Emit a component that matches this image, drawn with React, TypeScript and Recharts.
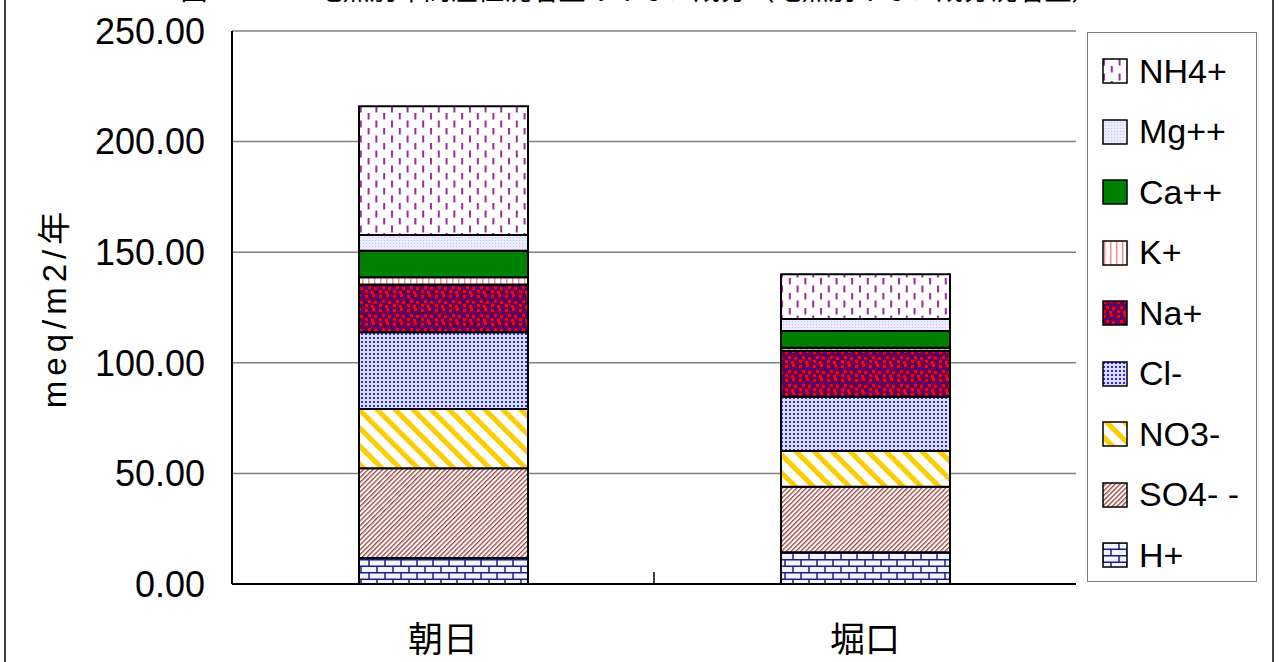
import { BarChart, Bar, XAxis, YAxis, CartesianGrid, ReferenceLine } from 'recharts';

const CATEGORIES = ['朝日', '堀口'];

// meq/m2/年, bottom of the stack first
const H_PLUS = [11.7, 14.3];
const SO4 = [40.6, 29.7];
const NO3 = [26.8, 16.1];
const CL = [34.7, 24.6];
const NA = [21.6, 20.8];
const K = [3.3, 1.3];
const CA = [12.0, 7.6];
const MG = [7.1, 5.4];
const NH4 = [58.2, 20.2];

const Y_TICKS = [0, 50, 100, 150, 200, 250];

const SERIES = [
  { key: 'H+', values: H_PLUS, fill: 'url(#pH)' },
  { key: 'SO4- -', values: SO4, fill: 'url(#pSO4)' },
  { key: 'NO3-', values: NO3, fill: 'url(#pNO3)' },
  { key: 'Cl-', values: CL, fill: 'url(#pCl)' },
  { key: 'Na+', values: NA, fill: 'url(#pNa)' },
  { key: 'K+', values: K, fill: 'url(#pK)' },
  { key: 'Ca++', values: CA, fill: '#008000' },
  { key: 'Mg++', values: MG, fill: 'url(#pMg)' },
  { key: 'NH4+', values: NH4, fill: 'url(#pNH4)' },
];

const data = CATEGORIES.map((name, i) => {
  const row: Record<string, string | number> = { name };
  SERIES.forEach((s) => {
    row[s.key] = s.values[i];
  });
  return row;
});

const FONT = '"Liberation Sans", Arial, "Noto Sans CJK JP", sans-serif';
const CJK = '"Noto Sans CJK JP", "Liberation Sans", sans-serif';

function Patterns() {
  return (
    <defs>
      <pattern id="pH" patternUnits="userSpaceOnUse" width={16} height={13}>
        <rect width={16} height={13} fill="#f4f4ff" />
        <path d="M0,0.75H16M0,7.25H16M1,0V6.5M9,6.5V13" stroke="#1c1c8a" strokeWidth={1.5} />
      </pattern>
      <pattern id="pSO4" patternUnits="userSpaceOnUse" width={3.4} height={3.4} patternTransform="rotate(45)">
        <rect width={3.4} height={3.4} fill="#ffffff" />
        <rect width={1.3} height={3.4} fill="#a0403c" />
      </pattern>
      <pattern id="pNO3" patternUnits="userSpaceOnUse" width={12.7} height={12.7} patternTransform="rotate(-45)">
        <rect width={12.7} height={12.7} fill="#ffffff" />
        <rect width={5} height={12.7} fill="#ffcc00" />
      </pattern>
      <pattern id="pCl" patternUnits="userSpaceOnUse" width={4} height={4}>
        <rect width={4} height={4} fill="#dcdcff" />
        <rect x={1} y={1} width={2} height={2} fill="#2a2aff" />
      </pattern>
      <pattern id="pNa" patternUnits="userSpaceOnUse" width={14} height={14}>
        <rect width={14} height={14} fill="#5e0060" />
        <rect x={1} y={1} width={3} height={3} fill="#ff0000" />
        <rect x={8} y={0} width={3} height={3} fill="#ff0000" />
        <rect x={4} y={6} width={3} height={3} fill="#ff0000" />
        <rect x={10} y={7} width={3} height={3} fill="#ff0000" />
        <rect x={1} y={10} width={3} height={3} fill="#ff0000" />
        <rect x={7} y={11} width={3} height={3} fill="#ff0000" />
      </pattern>
      <pattern id="pK" patternUnits="userSpaceOnUse" width={6} height={6}>
        <rect width={6} height={6} fill="#ffffff" />
        <rect x={2} width={1.5} height={6} fill="#ff8c8c" />
      </pattern>
      <pattern id="pMg" patternUnits="userSpaceOnUse" width={3} height={3}>
        <rect width={3} height={3} fill="#ececff" />
        <rect width={1} height={1} fill="#c4c4f4" />
      </pattern>
      <pattern id="pNH4" patternUnits="userSpaceOnUse" width={15.6} height={15}>
        <rect width={15.6} height={15} fill="#ffffff" />
        <rect x={1} y={0.5} width={2} height={7} fill="#9a2a9a" />
        <rect x={8.8} y={8} width={2} height={6.5} fill="#9a2a9a" />
      </pattern>
    </defs>
  );
}

function Legend() {
  const items = [...SERIES].reverse();
  return (
    <div
      style={{
        position: 'absolute',
        left: 1087,
        top: 32,
        width: 170,
        height: 550,
        border: '1.5px solid #808080',
        background: '#fff',
        paddingTop: 8,
        boxSizing: 'border-box',
      }}
    >
      {items.map((s) => (
        <div key={s.key} style={{ height: 60.5, display: 'flex', alignItems: 'center' }}>
          <svg width={26} height={26} style={{ marginLeft: 14, flex: 'none' }}>
            <rect x={1} y={1} width={24} height={24} fill={s.fill} stroke="#000" strokeWidth={1.5} />
          </svg>
          <span style={{ marginLeft: 11, fontFamily: FONT, fontSize: 34, color: '#000', whiteSpace: 'pre' }}>
            {s.key}
          </span>
        </div>
      ))}
    </div>
  );
}

export default function App() {
  return (
    <div
      style={{
        position: 'absolute',
        left: 0,
        top: 0,
        width: 1279,
        height: 662,
        overflow: 'hidden',
        background: '#fff',
      }}
    >
      {/* outer chart frame, top and bottom fall outside the picture */}
      <div
        style={{
          position: 'absolute',
          left: 4,
          top: -20,
          width: 1266,
          height: 720,
          border: '2px solid #404040',
        }}
      />
      <div
        style={{
          position: 'absolute',
          top: -26,
          left: 0,
          width: 1279,
          textAlign: 'center',
          fontFamily: CJK,
          fontSize: 27,
          lineHeight: '30px',
          whiteSpace: 'nowrap',
        }}
      >
        図１－３　地点別年間湿性沈着量のイオン成分（地点別イオン成分沈着量）
      </div>

      <div style={{ position: 'absolute', left: 0, top: 0 }}>
        <BarChart
          width={1279}
          height={662}
          data={data}
          margin={{ top: 31, right: 203, bottom: 0, left: 0 }}
        >
          <Patterns />
          <CartesianGrid vertical={false} stroke="#808080" strokeWidth={1.5} xAxisId="cat" />
          <XAxis
            xAxisId="cat"
            dataKey="name"
            height={78}
            tickLine={false}
            tickSize={0}
            tickMargin={43}
            axisLine={{ stroke: '#000', strokeWidth: 2 }}
            tick={{ fontSize: 35, fill: '#000', fontFamily: CJK }}
          />
          <XAxis
            xAxisId="top"
            orientation="top"
            dataKey="name"
            height={0}
            tick={false}
            tickLine={false}
            axisLine={{ stroke: '#000', strokeWidth: 2 }}
          />
          <YAxis
            width={232}
            domain={[0, 250]}
            ticks={Y_TICKS}
            interval={0}
            tickFormatter={(v: number) => v.toFixed(2)}
            tickLine={false}
            tickSize={0}
            tickMargin={27}
            axisLine={{ stroke: '#000', strokeWidth: 2 }}
            tick={{ fontSize: 36, fill: '#000', fontFamily: FONT }}
            label={{
              value: 'meq/m2/年',
              angle: -90,
              position: 'insideLeft',
              offset: 54,
              style: { textAnchor: 'middle', fontSize: 33, fill: '#000', fontFamily: FONT, letterSpacing: 5 },
            }}
          />
          <YAxis
            yAxisId="right"
            orientation="right"
            width={0}
            domain={[0, 250]}
            tick={false}
            tickLine={false}
            axisLine={{ stroke: '#000', strokeWidth: 2 }}
          />
          {SERIES.map((s) => (
            <Bar
              key={s.key}
              xAxisId="cat"
              dataKey={s.key}
              stackId="ions"
              fill={s.fill}
              stroke="#000"
              strokeWidth={2}
              barSize={169}
              isAnimationActive={false}
            />
          ))}
          {/* category separator tick between the two sites */}
          <ReferenceLine
            xAxisId="cat"
            position="end"
            segment={[
              { x: CATEGORIES[0], y: 0 },
              { x: CATEGORIES[0], y: 5.4 },
            ]}
            stroke="#000"
            strokeWidth={1.5}
            ifOverflow="visible"
          />
        </BarChart>
      </div>
      <Legend />
    </div>
  );
}
